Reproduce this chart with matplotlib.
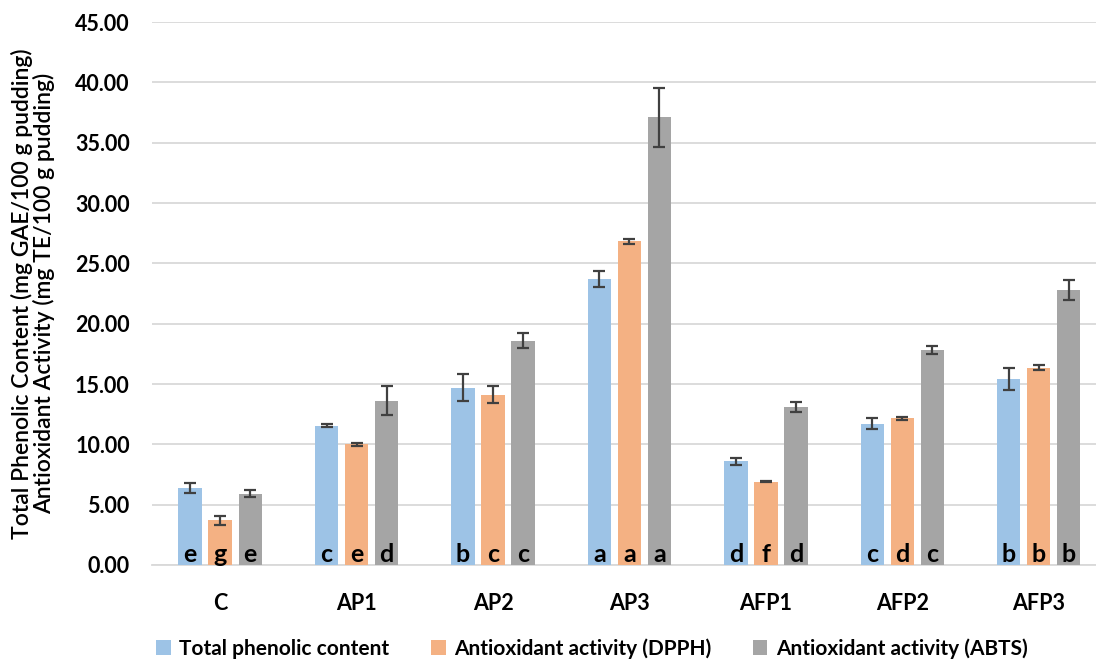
"""Phenolic content and antioxidant activity of puddings, grouped bar chart."""

import numpy as np
import matplotlib.pyplot as plt

plt.rcParams['font.family'] = ['Lato', 'DejaVu Sans']

samples = ["C", "AP1", "AP2", "AP3", "AFP1", "AFP2", "AFP3"]
series_names = ["Total phenolic content", "Antioxidant activity (DPPH)",
                "Antioxidant activity (ABTS)"]

tpc = [6.4, 11.55, 14.7, 23.7, 8.6, 11.7, 15.4]
tpc_err = [0.4, 0.1, 1.1, 0.65, 0.3, 0.45, 0.9]
dpph = [3.7, 10.0, 14.1, 26.85, 6.9, 12.15, 16.35]
dpph_err = [0.35, 0.15, 0.7, 0.2, 0.05, 0.1, 0.2]
abts = [5.9, 13.6, 18.6, 37.1, 13.1, 17.8, 22.8]
abts_err = [0.3, 1.2, 0.6, 2.45, 0.45, 0.35, 0.8]

tpc_letters = ["e", "c", "b", "a", "d", "c", "b"]
dpph_letters = ["g", "e", "c", "a", "f", "d", "b"]
abts_letters = ["e", "d", "c", "a", "d", "c", "b"]

colors = ["#9DC3E6", "#F4B183", "#A5A5A5"]

fig = plt.figure(figsize=(10.96, 6.71), dpi=100)
ax = fig.add_axes([0.1387, 0.158, 0.8613, 0.809])

x = np.arange(len(samples))
width = 0.172
offsets = [-0.22, 0.0, 0.22]
groups = [(tpc, tpc_err, tpc_letters), (dpph, dpph_err, dpph_letters),
          (abts, abts_err, abts_letters)]

for k, (vals, errs, letters) in enumerate(groups):
    ax.bar(x + offsets[k], vals, width, color=colors[k], label=series_names[k],
           yerr=errs, capsize=4.5, zorder=3,
           error_kw={"ecolor": "#404040", "elinewidth": 1.6, "capthick": 1.6})
    for xi, letter in zip(x + offsets[k], letters):
        ax.text(xi, 0.25, letter, ha="center", va="baseline", fontsize=18,
                fontweight="bold", color="black", zorder=4)

ax.set_ylim(0, 45)
ax.set_xlim(-0.5, 6.42)
ax.set_yticks(np.arange(0, 46, 5))
ax.set_yticklabels([f"{v:.2f}" for v in np.arange(0, 46, 5)])
ax.set_xticks(x)
ax.set_xticklabels(samples)
ax.yaxis.grid(True, color="#D9D9D9", linewidth=1.3, zorder=0)
ax.set_axisbelow(True)
for side in ["top", "right", "left"]:
    ax.spines[side].set_visible(False)
ax.spines["bottom"].set_color("#D9D9D9")
ax.spines["bottom"].set_linewidth(1.3)
ax.tick_params(axis="y", length=0, labelsize=15.5, pad=16)
ax.tick_params(axis="x", length=0, labelsize=15.5, pad=20)
for lbl in ax.get_xticklabels() + ax.get_yticklabels():
    lbl.set_fontweight("bold")

ax.set_ylabel("Total Phenolic Content (mg GAE/100 g pudding)\n"
              "Antioxidant Activity (mg TE/100 g pudding)",
              fontsize=16.5, fontweight="semibold", linespacing=1.0)
ax.yaxis.set_label_coords(-0.103, 0.5)

fig.legend(loc="lower center", bbox_to_anchor=(0.54, -0.01), ncol=3,
           frameon=False, handlelength=0.7, handleheight=0.7,
           columnspacing=2.0, handletextpad=0.4,
           prop={"weight": "bold", "size": 15})

plt.savefig("out.png", dpi=100, facecolor="white")
plt.close()
